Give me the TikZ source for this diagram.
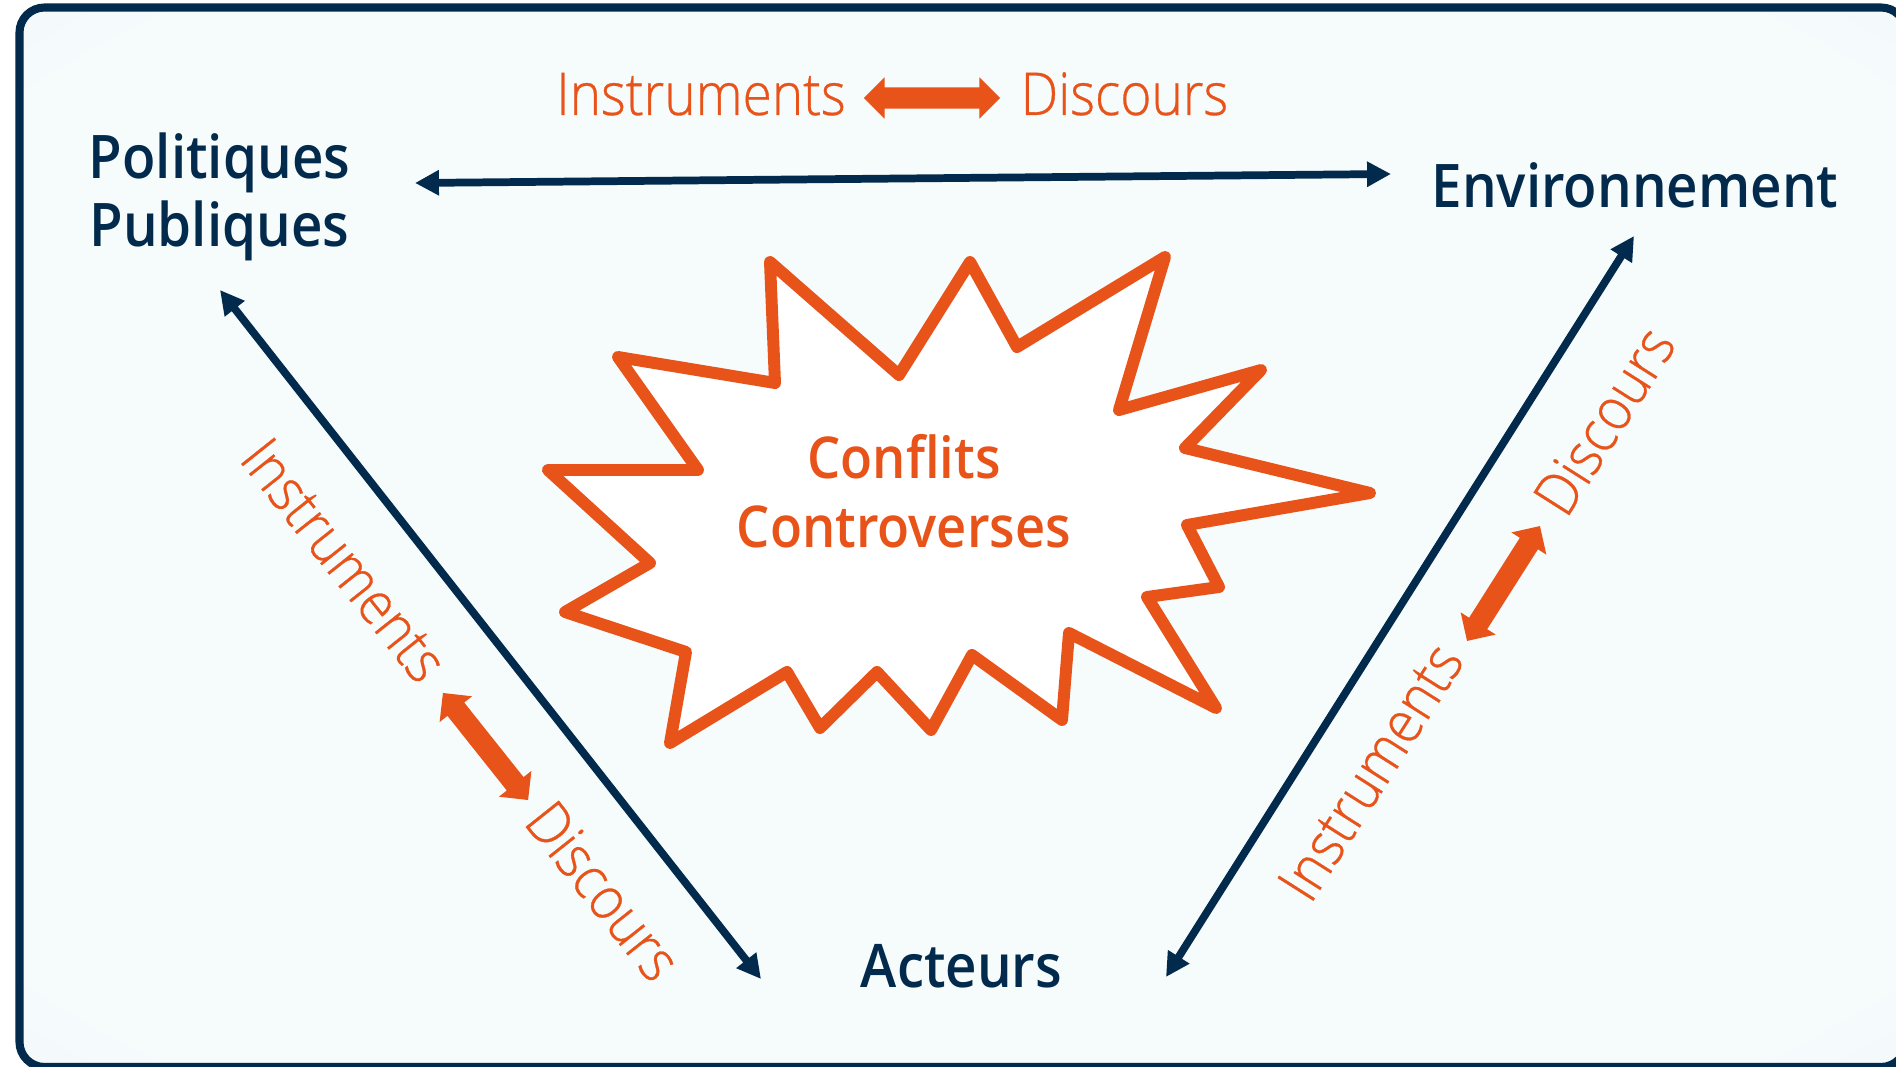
\documentclass[tikz,border=0pt]{standalone}
\usepackage{fontspec}
\setmainfont{Open Sans}
\newfontfamily\semif[FakeStretch=0.91]{Open Sans Semibold}
\newfontfamily\lightf[FakeStretch=0.90,FakeBold=0.5]{Open Sans Light}
\usetikzlibrary{arrows.meta,shapes.arrows}
\definecolor{navy}{HTML}{022A4C}
\definecolor{orng}{HTML}{E8531A}
\definecolor{bgc}{HTML}{F6FBFC}
\definecolor{bge}{HTML}{D6EDF7}
\pgfdeclareradialshading{bgshade}{\pgfpoint{0bp}{0bp}}{color(0bp)=(bgc); color(32bp)=(bgc); color(72bp)=(bge)}
\begin{document}
\begin{tikzpicture}[x=0.01cm,y=-0.01cm,
  lbl/.style={font=\semif\fontsize{17.1pt}{19.6pt}\selectfont, text=navy, inner sep=0pt},
  clbl/.style={font=\semif\fontsize{16.4pt}{19.9pt}\selectfont, text=orng, inner sep=0pt},
  olbl/.style={font=\lightf\fontsize{16.8pt}{20pt}\selectfont, text=orng, inner sep=0pt},
  navyarrow/.style={draw=navy, line width=2.2pt, {Triangle[length=6.8pt,width=6.8pt]}-{Triangle[length=6.8pt,width=6.8pt]}},
  bigdarrow/.style={double arrow, fill=orng, draw=none, inner xsep=0pt, inner ysep=0.1cm, minimum height=1.36cm, double arrow head extend=0.10cm},
  burst/.style={draw=orng, line width=3.4pt, line join=round, fill=white}]
\useasboundingbox (0,0) rectangle (1896,1067);
\clip (0,0) rectangle (1896,1067);
% frame
\shadedraw[shading=bgshade, draw=navy, line width=2.3pt, rounded corners=0.25cm] (19.5,7.5) rectangle (1906,1067);
% starburst
\path[burst] (770,262) -- (775,383) -- (618,357) -- (698,470) -- (548,470) -- (650,563) -- (565,612) -- (686,652) -- (670,743) -- (787,672) -- (820,728) -- (877,672) -- (931,730) -- (972,655) -- (1062,720) -- (1069,633) -- (1216,708) -- (1147,597) -- (1219,587) -- (1187,525) -- (1370,493) -- (1185,448) -- (1261,370) -- (1119,410) -- (1165,257) -- (1017,347) -- (970,262) -- (899,375) -- cycle;
% labels
\node[lbl, align=center, anchor=base] (pp) at (219.5,247) {Politiques\\Publiques};
\node[lbl, anchor=base] (env) at (1635,208) {Environnement};
\node[lbl, anchor=base] (act) at (961.5,988) {Acteurs};
\node[clbl, align=center, anchor=base] (cc) at (904,548) {Conflits\\Controverses};
% top orange labels
\node[olbl, anchor=base] (ti) at (701,115) {Instruments};
\node[olbl, anchor=base] (td) at (1124.5,115) {Discours};
\node[bigdarrow] (ta) at (932,98) {};
% left orange labels
\node[olbl, anchor=base, rotate=-51.5] (li) at (328,573) {Instruments};
\node[olbl, anchor=base, rotate=-51.5] (ld) at (587,904) {Discours};
\node[bigdarrow, minimum height=1.367cm, rotate=-51.5] (la) at (485.5,746.5) {};
% right orange labels
\node[olbl, anchor=base, rotate=57.6] (ri) at (1388,783) {Instruments};
\node[olbl, anchor=base, rotate=57.6] (rd) at (1622,432) {Discours};
\node[bigdarrow, rotate=57.6] (ra) at (1503.5,583.5) {};
% navy connectors
\coordinate (ppE) at (415,183);
\coordinate (envW) at (1391,174);
\coordinate (ppS) at (220,290);
\coordinate (actW) at (761,979);
\coordinate (envS) at (1634,236);
\coordinate (actE) at (1166,977);
\draw[navyarrow] (ppE) -- (envW);
\draw[navyarrow] (ppS) -- (actW);
\draw[navyarrow] (envS) -- (actE);
\end{tikzpicture}
\end{document}
